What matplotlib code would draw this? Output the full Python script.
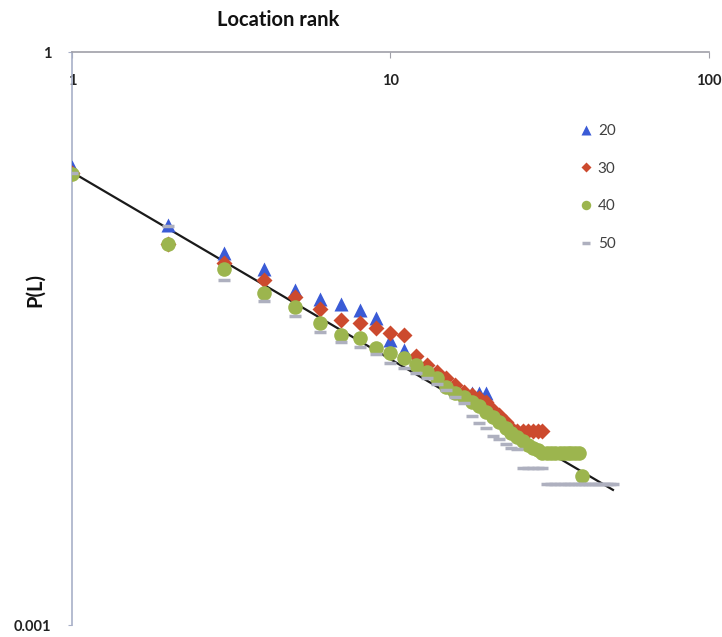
import numpy as np
import matplotlib.pyplot as plt

plt.rcParams['font.family'] = ['Lato', 'DejaVu Sans']

# P(L) per location rank, one list per group size
p20 = [0.249, 0.124, 0.089, 0.073, 0.0565, 0.0507, 0.048, 0.0445, 0.0404, 0.031,
       0.0275, 0.025, 0.023, 0.0215, 0.0192, 0.0175, 0.0164, 0.0164, 0.0164, 0.0164]
p30 = [0.232, 0.099, 0.079, 0.064, 0.052, 0.045, 0.0394, 0.038, 0.0358, 0.0338,
       0.033, 0.0256, 0.023, 0.0212, 0.0197, 0.018, 0.0166, 0.016, 0.0155, 0.0148,
       0.0134, 0.0126, 0.0116, 0.0108, 0.0104, 0.0104, 0.0104, 0.0104, 0.0104, 0.0104]
p40 = [0.229, 0.099, 0.073, 0.0545, 0.046, 0.038, 0.033, 0.0318, 0.0282, 0.0266,
       0.025, 0.023, 0.0212, 0.0197, 0.0177, 0.0164, 0.0157, 0.0148, 0.014, 0.013,
       0.0123, 0.0116, 0.0108, 0.0101, 0.0096, 0.0092, 0.0088, 0.0084, 0.0082, 0.008,
       0.008, 0.008, 0.008, 0.008, 0.008, 0.008, 0.008, 0.008, 0.008, 0.006]
p50 = [0.232, 0.123, 0.0644, 0.050, 0.0414, 0.0342, 0.0303, 0.0286, 0.0262, 0.0236,
       0.0222, 0.0209, 0.0197, 0.0183, 0.017, 0.0157, 0.0145, 0.0125, 0.0114, 0.0108,
       0.0098, 0.0094, 0.0089, 0.0085, 0.0083, 0.0066, 0.0066, 0.0066, 0.0066, 0.0066,
       0.0055, 0.0055, 0.0055, 0.0055, 0.0055, 0.0055, 0.0055, 0.0055, 0.0055, 0.0055,
       0.0055, 0.0055, 0.0055, 0.0055, 0.0055, 0.0055, 0.0055, 0.0055, 0.0055, 0.0055]

# power-law fit, end points
fit_x = [1, 50]
fit_y = [0.235, 0.0051]

fig = plt.figure(figsize=(7.22, 6.37), dpi=100)
ax = fig.add_axes([0.0997, 0.0188, 0.882, 0.8995])

ax.plot(fit_x, fit_y, color='#1a1a1a', lw=1.6, zorder=2)

def ranks(p):
    return np.arange(1, len(p) + 1)

ax.plot(ranks(p20), p20, '^', color='#3a5bd6', ms=10, mec='none', label='20', zorder=3)
ax.plot(ranks(p30), p30, 'D', color='#cc4a2e', ms=8, mec='none', label='30', zorder=4)
ax.plot(ranks(p40), p40, 'o', color='#9cb54e', ms=10.5, mec='none', label='40', zorder=5)
ax.plot(ranks(p50), p50, '_', color='#aeb0bf', ms=9, mew=2.5, label='50', zorder=6)

ax.set_xscale('log')
ax.set_yscale('log')
ax.set_xlim(1, 100)
ax.set_ylim(0.001, 1)
ax.set_xticks([1, 10, 100])
ax.set_xticklabels(['1', '10', '100'])
ax.set_yticks([0.001, 1])
ax.set_yticklabels(['0.001', '1'])
ax.minorticks_off()

for s in ['right', 'bottom']:
    ax.spines[s].set_visible(False)
ax.spines['top'].set_color('#a0a0a8')
ax.spines['left'].set_color('#a8b0c8')
ax.spines['top'].set_linewidth(1.2)
ax.spines['left'].set_linewidth(1.2)

ax.tick_params(axis='x', top=True, bottom=False, labeltop=True, labelbottom=False,
               direction='in', length=4, color='#a0a0a8', pad=-26, labelsize=10.5)
ax.tick_params(axis='y', direction='out', length=3, color='#a8b0c8', pad=12, labelsize=10.5)
for t in ax.get_xticklabels() + ax.get_yticklabels():
    t.set_fontweight('bold')
    t.set_color('#222222')

leg = ax.legend(loc='upper left', bbox_to_anchor=(0.785, 0.888), frameon=False,
                fontsize=11, labelspacing=1.55, handlelength=0.8, handletextpad=0.4,
                markerscale=0.65, borderpad=0)
for t in leg.get_texts():
    t.set_color('#404040')

fig.text(0.385, 0.968, 'Location rank', ha='center', va='center',
         fontsize=14.5, fontweight='bold', color='#111111')
fig.text(0.048, 0.545, 'P(L)', ha='center', va='center', rotation=90,
         fontsize=14.5, fontweight='bold', color='#111111')

fig.savefig('out.png', dpi=100)
